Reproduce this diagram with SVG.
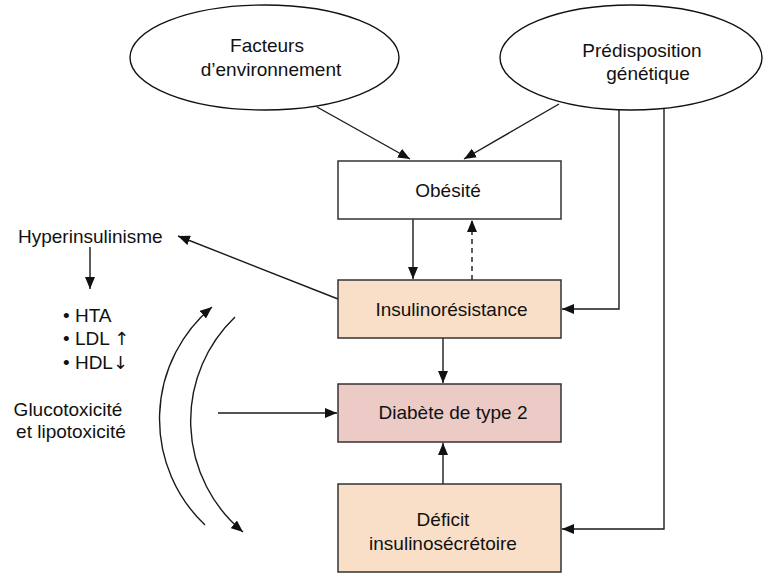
<svg xmlns="http://www.w3.org/2000/svg" width="764" height="574" viewBox="0 0 764 574">
<style>
text{font-family:"Liberation Sans",Arial,sans-serif;font-size:19px;fill:#111;}
.c{text-anchor:middle;}
.sym{font-family:"DejaVu Sans","Liberation Sans",sans-serif;font-variant-emoji:text;fill:#111;}
.box{stroke:#333;stroke-width:1.5;}
.ell{fill:#fff;stroke:#111;stroke-width:1.4;}
.ln{fill:none;stroke:#1a1a1a;stroke-width:1.4;}
.dash{stroke-dasharray:5 4;}
</style>
<defs>
<marker id="ah" markerUnits="userSpaceOnUse" viewBox="0 0 12 10" refX="12" refY="5" markerWidth="12" markerHeight="10" orient="auto">
<path d="M0,0 L12,5 L0,10 z" fill="#111"/>
</marker>
</defs>
<rect width="764" height="574" fill="#fff"/>

<g id="connectors">
<path class="ln" d="M317,107 L410,159" marker-end="url(#ah)"/>
<path class="ln" d="M559,104 L464,159" marker-end="url(#ah)"/>
<path class="ln" d="M619,110 V309 H562" marker-end="url(#ah)"/>
<path class="ln" d="M664,109 V529 H562" marker-end="url(#ah)"/>
<path class="ln" d="M413,219 V279" marker-end="url(#ah)"/>
<path class="ln dash" d="M472,280 V220" marker-end="url(#ah)"/>
<path class="ln" d="M443,338 V383" marker-end="url(#ah)"/>
<path class="ln" d="M443,484 V443" marker-end="url(#ah)"/>
<path class="ln" d="M338,299 L178,236" marker-end="url(#ah)"/>
<path class="ln" d="M90,247 V289" marker-end="url(#ah)"/>
<path class="ln" d="M218,413 H337" marker-end="url(#ah)"/>
<path class="ln" d="M205,525 A146,146 0 0 1 212,307" marker-end="url(#ah)"/>
<path class="ln" d="M235,317 A144,144 0 0 0 243,532" marker-end="url(#ah)"/>
</g>

<g id="facteurs">
<ellipse class="ell" cx="264.5" cy="57.5" rx="134.5" ry="52.5"/>
<text class="c" x="267" y="52">Facteurs</text>
<text class="c" x="271" y="76">d’environnement</text>
</g>

<g id="predisposition">
<ellipse class="ell" cx="631" cy="57.5" rx="131" ry="52.5"/>
<text class="c" x="642" y="57">Prédisposition</text>
<text class="c" x="648" y="80">génétique</text>
</g>

<g id="obesite">
<rect class="box" x="338" y="161" width="223" height="58" fill="#fff"/>
<text class="c" x="448" y="197">Obésité</text>
</g>

<g id="insulinoresistance">
<rect class="box" x="338" y="280" width="223" height="58" fill="#f9dfc8"/>
<text class="c" x="451.5" y="316">Insulinorésistance</text>
</g>

<g id="diabete">
<rect class="box" x="338" y="384" width="223" height="58" fill="#eccbc6"/>
<text class="c" x="453" y="419">Diabète de type 2</text>
</g>

<g id="deficit">
<rect class="box" x="338" y="484" width="223" height="88" fill="#f9dfc8"/>
<text class="c" x="443" y="526">Déficit</text>
<text class="c" x="443" y="550">insulinosécrétoire</text>
</g>

<g id="hyperinsulinisme">
<text x="18" y="243">Hyperinsulinisme</text>
</g>

<g id="consequences">
<text x="63" y="322">• HTA</text>
<text x="63" y="345">• LDL <tspan class="sym" font-size="18">↑</tspan></text>
<text x="63" y="369">• HDL<tspan class="sym" font-size="18">↓</tspan></text>
</g>

<g id="glucotoxicite">
<text class="c" x="68" y="416">Glucotoxicité</text>
<text class="c" x="71" y="438">et lipotoxicité</text>
</g>
</svg>
